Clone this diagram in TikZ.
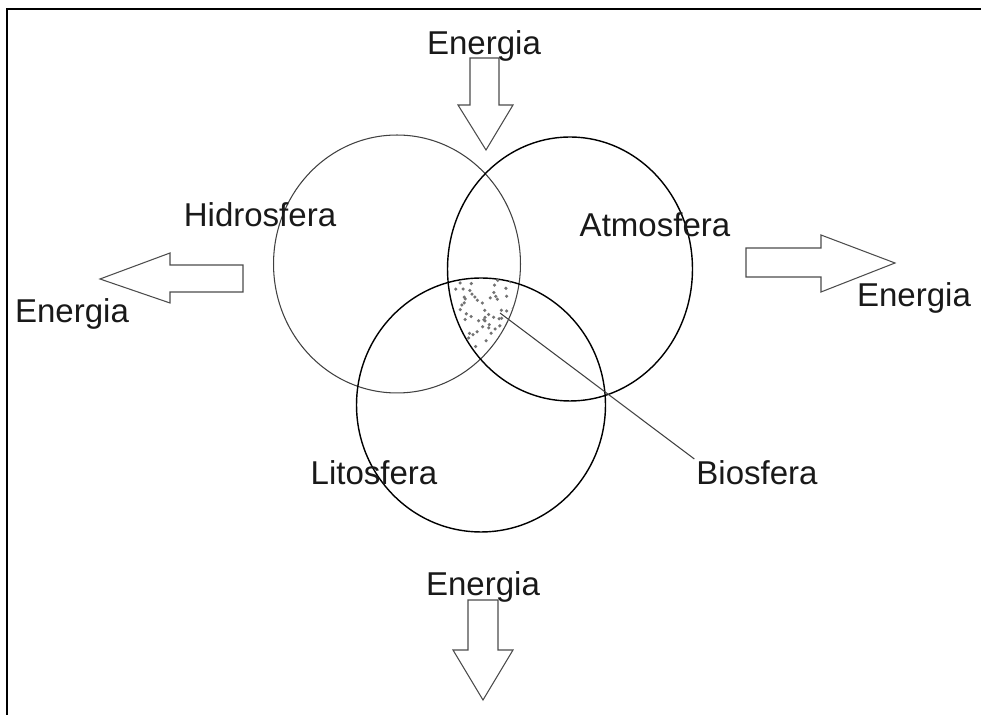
\documentclass[tikz,border=0pt]{standalone}
\usepackage{fontspec}
\setmainfont{Liberation Sans}
\usetikzlibrary{shapes.geometric}

\tikzset{
  sphere/.style={ellipse, draw, line width=0.8pt, inner sep=0pt},
  lbl/.style={anchor=base, inner sep=1pt, font=\fontsize{18.8}{21}\selectfont, text=black!90},
  blockarrow/.style={draw=black!70, line width=0.6pt, line join=miter},
}

\begin{document}
\begin{tikzpicture}[x=0.02cm, y=-0.02cm]
  \useasboundingbox (0,0) rectangle (981,715);
  % frame
  \draw[line width=1.2pt] (7,715) -- (7,9) -- (981,9);

  % the three spheres
  \node[sphere, draw=black!75, line width=0.6pt, minimum width=4.94cm, minimum height=5.16cm] (H) at (397,264) {};
  \node[sphere, minimum width=4.90cm, minimum height=5.28cm] (A) at (570,269) {};
  \node[sphere, minimum width=4.98cm, minimum height=5.08cm] (L) at (481,405) {};

  % stippled biosphere
  \begin{scope}
    \clip (H.center) ellipse [x radius=2.47cm, y radius=2.58cm];
    \clip (A.center) ellipse [x radius=2.45cm, y radius=2.64cm];
    \clip (L.center) ellipse [x radius=2.49cm, y radius=2.54cm];
    \pgfmathsetseed{11}
    \foreach \i in {1,...,80}
      \fill[black!55] ({447+74*rnd}, {278+82*rnd}) circle (1pt);
  \end{scope}

  % energy arrows
  \draw[blockarrow] (470,58) -- (499,58) -- (499,105) -- (513,105) -- (486,150) -- (458,105) -- (470,105) -- cycle;
  \draw[blockarrow] (243,265) -- (243,292) -- (170,292) -- (170,303) -- (100,279) -- (170,253) -- (170,265) -- cycle;
  \draw[blockarrow] (746,248) -- (821,248) -- (821,235) -- (895,263) -- (821,292) -- (821,277) -- (746,277) -- cycle;
  \draw[blockarrow] (468,600) -- (498,600) -- (498,650) -- (513,650) -- (483,700) -- (453,650) -- (468,650) -- cycle;

  % labels
  \node[lbl] (Etop) at (484,55) {Energia};
  \node[lbl] (Eleft) at (72,323) {Energia};
  \node[lbl] (Eright) at (914,307) {Energia};
  \node[lbl] (Ebottom) at (483,596) {Energia};
  \node[lbl] (Hl) at (260,227) {Hidrosfera};
  \node[lbl] (Al) at (655,237) {Atmosfera};
  \node[lbl] (Ll) at (374,485) {Litosfera};
  \node[lbl] (Bl) at (757,485) {Biosfera};

  \coordinate (B) at (500,313);
  \draw[black!75, line width=0.6pt] (B) -- (Bl.north west);
\end{tikzpicture}
\end{document}
